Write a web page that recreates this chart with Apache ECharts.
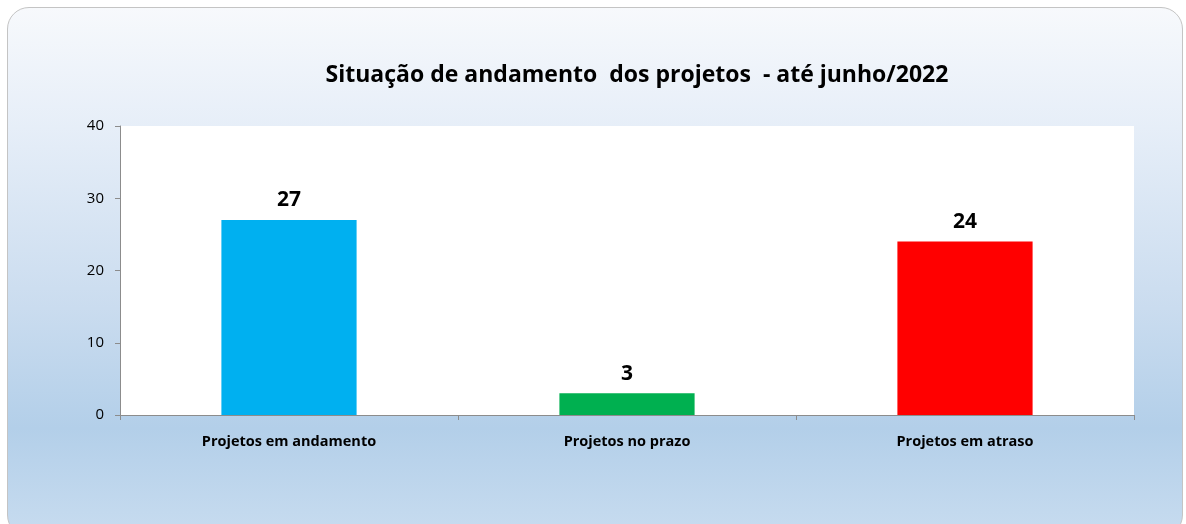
<!DOCTYPE html>
<html><head><meta charset="utf-8">
<script src="https://cdn.jsdelivr.net/npm/echarts@6/dist/echarts.min.js"></script>
<style>
html,body{margin:0;padding:0;background:#fff;width:1186px;height:524px;overflow:hidden;}
#frame{position:absolute;left:7px;top:7px;width:1176px;height:530px;border:1px solid #c4c4c4;border-radius:22px;box-sizing:border-box;
background:linear-gradient(to bottom,#f7f9fc 0px,#e6eef8 120px,#cadcef 300px,#b3cfe9 420px,#c6dbef 520px);}
#chart{position:absolute;left:0;top:0;width:1186px;height:524px;}
</style></head>
<body>
<div id="frame"></div>
<div id="chart"></div>
<script>
const title = 'Situação de andamento  dos projetos  - até junho/2022';
const categories = ['Projetos em andamento', 'Projetos no prazo', 'Projetos em atraso'];
const values = [27, 3, 24];
const colors = ['#00b0f0', '#00b050', '#ff0000'];
const yTicks = [0, 10, 20, 30, 40];

const chart = echarts.init(document.getElementById('chart'), null, {renderer: 'canvas'});
chart.setOption({
  backgroundColor: 'transparent',
  animation: false,
  title: {
    text: title, left: 632, top: 59, textAlign: 'center',
    textStyle: {fontFamily: 'Open Sans', fontWeight: 'bold', fontSize: 23, color: '#000'}
  },
  grid: {left: 120, top: 126, width: 1014, height: 289, backgroundColor: '#fff', show: true, borderWidth: 0},
  xAxis: {
    type: 'category', data: categories,
    axisLine: {lineStyle: {color: '#8c8c8c'}},
    axisTick: {show: true, alignWithLabel: false, length: 5, lineStyle: {color: '#8c8c8c'}},
    axisLabel: {fontFamily: 'Open Sans', fontWeight: 'bold', fontSize: 14.5, color: '#000', margin: 19}
  },
  yAxis: {
    type: 'value', min: yTicks[0], max: yTicks[yTicks.length-1], interval: 10,
    axisLine: {show: true, lineStyle: {color: '#8c8c8c'}},
    axisTick: {show: true, length: 5, lineStyle: {color: '#8c8c8c'}},
    splitLine: {show: false},
    axisLabel: {fontFamily: 'Open Sans', fontSize: 15, color: '#000', margin: 16}
  },
  series: [{
    type: 'bar', barWidth: '40%',
    data: values.map((v, i) => ({value: v, itemStyle: {color: colors[i]}})),
    label: {show: true, position: 'top', distance: 9, fontFamily: 'Open Sans', fontWeight: 'bold', fontSize: 21, color: '#000'}
  }]
});
</script>
</body></html>
